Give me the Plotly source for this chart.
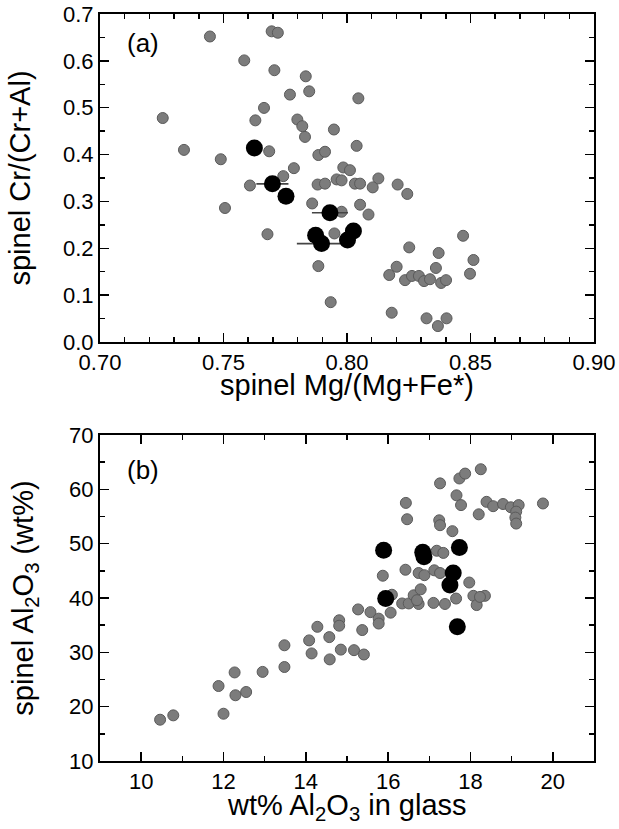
import plotly.graph_objects as go

# ---------------- Panel (a) data ----------------
a_gray_mg = [0.7445, 0.7695, 0.772, 0.7584, 0.7706, 0.7833, 0.7769, 0.7847, 0.8046, 0.7254,
             0.7664, 0.7629, 0.7799, 0.7819, 0.783, 0.7947, 0.8039, 0.734, 0.7489, 0.7685,
             0.7884, 0.7911, 0.7785, 0.7742, 0.7607, 0.7881, 0.7911, 0.7958, 0.7985, 0.8012,
             0.7978, 0.8032, 0.8053, 0.8127, 0.8104, 0.8205, 0.8244, 0.7859, 0.7506, 0.8053,
             0.8087, 0.7978, 0.7678, 0.7949, 0.8252, 0.7884, 0.8201, 0.8171, 0.7934, 0.8181,
             0.847, 0.8371, 0.8512, 0.836, 0.8235, 0.8263, 0.8291, 0.8312, 0.8336, 0.8381,
             0.8401, 0.8498, 0.8322, 0.8403, 0.8368]
a_gray_cr = [0.652, 0.663, 0.66, 0.601, 0.580, 0.567, 0.528, 0.535, 0.520, 0.478,
             0.4996, 0.473, 0.4748, 0.4606, 0.4377, 0.4535, 0.4186, 0.41, 0.390, 0.407,
             0.399, 0.406, 0.371, 0.354, 0.334, 0.336, 0.338, 0.347, 0.3725, 0.3667,
             0.345, 0.338, 0.338, 0.349, 0.330, 0.336, 0.316, 0.2957, 0.286, 0.293,
             0.272, 0.278, 0.230, 0.2317, 0.2019, 0.162, 0.1606, 0.143, 0.085, 0.0625,
             0.2267, 0.190, 0.175, 0.158, 0.132, 0.141, 0.141, 0.130, 0.134, 0.126,
             0.132, 0.1457, 0.0505, 0.0505, 0.034]

a_black_mg = [0.7625, 0.7698, 0.7753, 0.7931, 0.7873, 0.7897, 0.8026, 0.8002]
a_black_cr = [0.414, 0.3375, 0.311, 0.2757, 0.228, 0.210, 0.2367, 0.2175]
a_black_err = [0.0, 0.0065, 0.0, 0.0073, 0.0, 0.010, 0.0, 0.0]

# ---------------- Panel (b) data ----------------
b_gray_glass = [10.46, 10.78, 11.88, 12.0, 12.27, 12.29, 12.55, 12.95, 13.48, 13.48,
                14.08, 14.14, 14.28, 14.57, 14.58, 14.81, 14.81, 14.85, 15.17, 15.41,
                15.37, 15.27, 15.57, 15.77, 15.77, 16.06, 15.87, 16.09, 16.34, 16.5,
                16.74, 16.62, 16.7, 16.79, 17.1, 17.38, 17.65, 18.07, 18.35, 18.15,
                18.23, 17.97, 16.42, 16.74, 16.88, 17.12, 17.26, 17.18, 17.34, 17.56,
                17.24, 17.26, 16.46, 16.43, 18.2, 17.66, 17.77, 17.26, 17.73, 17.87,
                18.25, 18.39, 18.55, 18.79, 18.98, 19.17, 19.11, 19.09, 19.11, 19.76]
b_gray_spinel = [17.6, 18.4, 23.8, 18.7, 26.3, 22.1, 22.7, 26.4, 31.3, 27.3,
                 32.2, 29.8, 34.7, 32.8, 28.7, 35.9, 34.9, 30.5, 30.4, 29.6,
                 34.1, 37.9, 37.4, 36.2, 35.3, 37.3, 44.1, 40.6, 39.0, 39.0,
                 38.9, 40.5, 39.6, 41.6, 39.1, 38.9, 39.9, 40.4, 40.4, 38.7,
                 40.2, 42.85, 45.2, 44.6, 44.2, 45.1, 44.6, 48.7, 48.3, 52.3,
                 54.3, 53.4, 54.5, 57.5, 55.4, 58.9, 57.1, 61.1, 62.0, 62.9,
                 63.7, 57.7, 56.9, 57.3, 56.7, 57.1, 55.9, 54.8, 53.7, 57.4]

b_black_glass = [15.89, 16.84, 16.87, 17.73, 17.58, 17.5, 15.94, 17.68]
b_black_spinel = [48.8, 48.4, 47.6, 49.3, 44.6, 42.4, 39.9, 34.7]

GRAY = "#7c7c7c"
GRAY_LINE = "#5a5a5a"
FONT = "Liberation Sans, Arial, Helvetica, sans-serif"
TICK_SIZE = 22
TITLE_SIZE = 29

fig = go.Figure()

fig.add_trace(go.Scatter(x=a_gray_mg, y=a_gray_cr, mode="markers",
                         marker=dict(size=11, color=GRAY, line=dict(color=GRAY_LINE, width=1)),
                         xaxis="x", yaxis="y", showlegend=False))
fig.add_trace(go.Scatter(x=a_black_mg, y=a_black_cr, mode="markers",
                         marker=dict(size=17, color="black"),
                         error_x=dict(type="data", array=a_black_err, color="#444444",
                                      thickness=1.6, width=0),
                         xaxis="x", yaxis="y", showlegend=False))
fig.add_trace(go.Scatter(x=b_gray_glass, y=b_gray_spinel, mode="markers",
                         marker=dict(size=11, color=GRAY, line=dict(color=GRAY_LINE, width=1)),
                         xaxis="x2", yaxis="y2", showlegend=False))
fig.add_trace(go.Scatter(x=b_black_glass, y=b_black_spinel, mode="markers",
                         marker=dict(size=17, color="black"),
                         xaxis="x2", yaxis="y2", showlegend=False))

axis_common = dict(showline=True, linecolor="black", linewidth=2, mirror="allticks",
                   ticks="inside", ticklen=9, tickwidth=1.5, tickcolor="black",
                   showgrid=False, zeroline=False, automargin=False,
                   ticklabeloverflow="allow",
                   tickfont=dict(size=TICK_SIZE, color="black", family=FONT),
                   minor=dict(ticks="inside", ticklen=5, tickwidth=1.5, tickcolor="black",
                              showgrid=False))

fig.update_layout(
    width=619, height=829,
    margin=dict(l=100, r=25, t=14, b=68),
    paper_bgcolor="white", plot_bgcolor="white",
    font=dict(family=FONT, color="black"),
    hovermode=False,
    xaxis=dict(axis_common, domain=[0, 1], anchor="y", range=[0.70, 0.90],
               tickvals=[0.70, 0.75, 0.80, 0.85, 0.90], tickformat=".2f",
               minor=dict(axis_common["minor"], dtick=0.01, tick0=0.70)),
    yaxis=dict(axis_common, domain=[0.5609, 1], anchor="x", range=[0, 0.7],
               dtick=0.1, tickformat=".1f",
               minor=dict(axis_common["minor"], dtick=0.05, tick0=0),
               title=dict(text="spinel Cr/(Cr+Al)", font=dict(size=TITLE_SIZE), standoff=24)),
    xaxis2=dict(axis_common, domain=[0, 1], anchor="y2", range=[9, 21],
                tickvals=[10, 12, 14, 16, 18, 20],
                minor=dict(axis_common["minor"], dtick=1, tick0=9)),
    yaxis2=dict(axis_common, domain=[0, 0.4364], anchor="x2", range=[10, 70],
                dtick=10,
                minor=dict(axis_common["minor"], dtick=5, tick0=10),
                title=dict(text="spinel Al<sub>2</sub>O<sub>3</sub> (wt%)",
                           font=dict(size=TITLE_SIZE), standoff=27)),
    annotations=[
        dict(text="spinel Mg/(Mg+Fe*)", x=0.5, y=0.5033, xref="paper", yref="paper",
             xanchor="center", yanchor="middle", showarrow=False,
             font=dict(size=TITLE_SIZE, color="black", family=FONT)),
        dict(text="wt% Al<sub>2</sub>O<sub>3</sub> in glass", x=0.5, y=-0.0616,
             xref="paper", yref="paper", xanchor="center", yanchor="middle", showarrow=False,
             font=dict(size=TITLE_SIZE, color="black", family=FONT)),
        dict(text="(a)", x=0.7101, y=0.6375, xref="x", yref="y", xanchor="left",
             yanchor="middle", showarrow=False, font=dict(size=26, color="black", family=FONT)),
        dict(text="(b)", x=9.6, y=63.5, xref="x2", yref="y2", xanchor="left",
             yanchor="middle", showarrow=False, font=dict(size=26, color="black", family=FONT)),
    ],
)

# Remove the page's default body margin so the figure fills the window exactly.
fig.write_html("out.html", config={"displayModeBar": False, "staticPlot": True},
               post_script="document.body.style.margin='0px';")
